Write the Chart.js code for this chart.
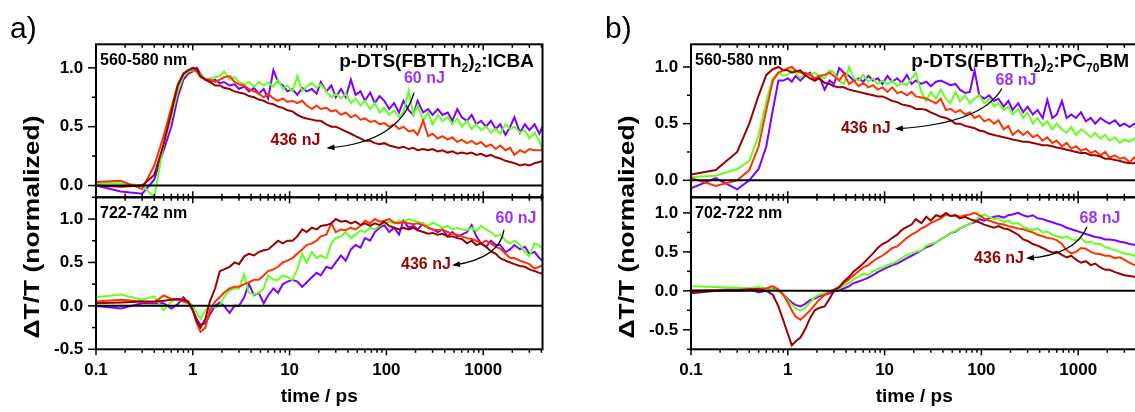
<!DOCTYPE html>
<html>
<head>
<meta charset="utf-8">
<script src="https://cdn.jsdelivr.net/npm/chart.js@4.4.1/dist/chart.umd.min.js"></script>
<style>
  html, body { margin: 0; padding: 0; background: #fff; overflow: hidden; }
  #wrap { position: relative; width: 1135px; height: 412px; overflow: hidden; }
  #wrap canvas { position: absolute; top: 0; }
</style>
</head>
<body>
<div id="wrap">
  <canvas id="icbaTop" width="560" height="412" style="left:0"></canvas>
  <canvas id="icbaBottom" width="560" height="412" style="left:0"></canvas>
  <canvas id="pcbmTop" width="560" height="412" style="left:595px"></canvas>
  <canvas id="pcbmBottom" width="560" height="412" style="left:595px"></canvas>
</div>
<script>
// delay times (ps), shared by every trace
const time = [0.1, 0.18, 0.3, 0.4, 0.5, 0.6, 0.7, 0.8, 0.9, 1.0,
  1.1, 1.2, 1.35, 1.5, 1.7, 1.9, 2.1, 2.4, 2.7, 3.0,
  3.4, 3.8, 4.3, 4.8, 5.4, 6.0, 6.8, 7.6, 8.5, 9.5,
  10.7, 12, 13.5, 15, 17, 19, 21, 24, 27, 30,
  34, 38, 43, 48, 54, 60, 68, 76, 85, 95,
  107, 120, 135, 150, 170, 190, 210, 240, 270, 300,
  340, 380, 430, 480, 540, 600, 680, 760, 850, 950,
  1070, 1200, 1350, 1500, 1700, 1900, 2100, 2400, 2700, 3000,
  3400, 3800, 4100];

// a) p-DTS(FBTTh2)2:ICBA, 560-580 nm
const icba570Violet = [0.0, -0.05, -0.07, 0.05, 0.3, 0.5, 0.75, 0.9, 0.95, 0.97,
  1.0, 0.95, 0.9, 0.88, 0.9, 0.87, 0.88, 0.85, 0.86, 0.82,
  0.84, 0.8, 0.83, 0.78, 0.82, 0.74, 0.98, 0.88, 0.85, 0.8,
  0.82, 0.77, 0.83, 0.8, 0.82, 0.78, 0.88, 0.8, 0.85, 0.75,
  0.82, 0.75, 0.9, 0.77, 0.8, 0.72, 0.79, 0.7, 0.76, 0.72,
  0.65, 0.7, 0.62, 0.72, 0.64, 0.6, 0.72, 0.62, 0.65, 0.6,
  0.65, 0.6, 0.62, 0.55, 0.65, 0.58, 0.55, 0.6, 0.52, 0.55,
  0.5, 0.55, 0.48, 0.52, 0.43, 0.5, 0.58, 0.45, 0.52, 0.47,
  0.52, 0.44, 0.5];
const icba570Green = [0.02, 0.02, 0.0, -0.1, 0.35, 0.58, 0.8, 0.93, 0.97, 0.98,
  0.97, 0.95, 0.9, 0.91, 0.92, 0.93, 0.97, 0.9, 0.92, 0.88,
  0.86, 0.88, 0.84, 0.88, 0.85, 0.88, 0.84, 0.9, 0.82, 0.85,
  0.8, 0.93, 0.8, 0.84, 0.87, 0.83, 0.86, 0.8, 0.75, 0.78,
  0.74, 0.78, 0.7, 0.74, 0.68, 0.72, 0.65, 0.7, 0.62, 0.66,
  0.6, 0.64, 0.58, 0.62, 0.81, 0.6, 0.68, 0.55, 0.62, 0.52,
  0.6, 0.55, 0.58, 0.52, 0.57, 0.5, 0.55, 0.48, 0.52, 0.47,
  0.5, 0.45, 0.48, 0.44, 0.52, 0.48, 0.5, 0.45, 0.47, 0.4,
  0.45, 0.38, 0.3];
const icba570Red = [0.03, 0.04, -0.03, 0.17, 0.42, 0.66, 0.86, 0.95, 0.98, 0.99,
  0.97, 0.92, 0.9, 0.9, 0.88, 0.9, 0.92, 0.93, 0.88, 0.86,
  0.85, 0.82, 0.8, 0.78, 0.75, 0.78, 0.74, 0.72, 0.74, 0.71,
  0.72, 0.7, 0.72, 0.68, 0.65, 0.68, 0.65, 0.66, 0.63, 0.64,
  0.6, 0.62, 0.58, 0.6, 0.56, 0.57, 0.54, 0.55, 0.52, 0.53,
  0.5, 0.52, 0.48, 0.5, 0.46, 0.47, 0.43, 0.55, 0.42, 0.44,
  0.4, 0.42, 0.39, 0.41, 0.37, 0.39, 0.36, 0.38, 0.35, 0.37,
  0.33, 0.35, 0.31, 0.34, 0.3, 0.32, 0.26, 0.3, 0.28, 0.31,
  0.3, 0.3, 0.3];
const icba570Brown = [0.0, -0.01, 0.0, 0.09, 0.35, 0.62, 0.85, 0.95, 0.98, 1.0,
  0.99, 0.93, 0.9, 0.88, 0.85, 0.85, 0.83, 0.82, 0.8, 0.79,
  0.78, 0.76, 0.75, 0.73, 0.72, 0.7, 0.69, 0.67, 0.66, 0.64,
  0.63, 0.6, 0.58, 0.57, 0.56, 0.55, 0.55, 0.52, 0.5, 0.5,
  0.48, 0.46, 0.44, 0.42, 0.4, 0.38, 0.38, 0.36, 0.35, 0.36,
  0.34, 0.33, 0.32, 0.33, 0.31, 0.32, 0.3, 0.31, 0.3, 0.31,
  0.29, 0.3, 0.28, 0.29, 0.27, 0.28, 0.27, 0.28, 0.26, 0.27,
  0.25, 0.26, 0.24, 0.23, 0.21, 0.2, 0.19, 0.17, 0.18, 0.17,
  0.19, 0.2, 0.21];

// a) 722-742 nm
const icba732Violet = [0.0, -0.03, 0.03, 0.03, 0.03, -0.03, 0.02, 0.1, 0.04, -0.05,
  -0.15, -0.22, -0.2, -0.1, 0.0, 0.04, 0.0, -0.08, 0.0, 0.0,
  0.1, 0.25, 0.12, 0.15, 0.03, 0.12, 0.2, 0.15, 0.25, 0.28,
  0.3, 0.28, 0.22, 0.27, 0.33, 0.38, 0.35, 0.45, 0.43, 0.5,
  0.58, 0.52, 0.65, 0.7, 0.67, 0.78, 0.75, 0.85, 0.9, 0.93,
  0.85, 0.9, 0.82, 0.98, 0.9, 0.92, 0.88, 0.95, 0.9, 0.88,
  0.85, 0.88, 0.8, 0.85, 0.8, 0.82, 0.85, 0.93, 0.8, 0.72,
  0.68, 0.75, 0.7, 0.7, 0.62, 0.65, 0.7, 0.65, 0.68, 0.6,
  0.62, 0.55, 0.52];
const icba732Green = [0.1, 0.13, 0.07, 0.11, -0.05, 0.05, 0.08, 0.07, 0.05, 0.0,
  -0.08, -0.15, -0.05, 0.0, -0.02, 0.0, 0.1, 0.18, 0.2, 0.2,
  0.36, 0.15, 0.13, 0.15, 0.2, 0.35, 0.3, 0.3, 0.35, 0.33,
  0.3, 0.42, 0.6, 0.5, 0.62, 0.55, 0.58, 0.55, 0.72, 0.78,
  0.8, 0.85, 0.78, 0.82, 0.87, 0.85, 0.9, 0.88, 0.92, 0.95,
  0.97, 0.95, 0.98, 0.97, 1.0, 0.98, 0.97, 0.95, 0.92, 0.96,
  0.93, 0.9, 0.92, 0.88, 0.9, 0.88, 0.87, 0.9, 0.86, 0.92,
  0.88, 0.85, 0.8, 0.82, 0.75, 0.72, 0.75, 0.7, 0.62, 0.57,
  0.72, 0.7, 0.65];
const icba732Red = [0.05, 0.07, 0.05, 0.04, 0.12, 0.08, 0.07, 0.05, 0.03, -0.05,
  -0.2, -0.3, -0.25, -0.05, 0.05, 0.1, 0.15, 0.2, 0.22, 0.22,
  0.25, 0.27, 0.3, 0.3, 0.35, 0.4, 0.42, 0.45, 0.5, 0.52,
  0.55, 0.6, 0.65, 0.7, 0.72, 0.75, 0.8, 0.82, 0.95, 0.85,
  0.88, 0.87, 0.9, 0.88, 0.92, 0.98, 0.95, 1.0, 0.97, 0.98,
  1.0, 0.96, 0.95, 0.97, 0.95, 0.94, 0.95, 0.93, 0.9, 0.88,
  0.87, 0.88, 0.85, 0.83, 0.82, 0.8, 0.78, 0.77, 0.75, 0.72,
  0.75, 0.72, 0.68, 0.66, 0.6, 0.55, 0.55, 0.52, 0.5, 0.48,
  0.43, 0.45, 0.47];
const icba732Brown = [0.03, 0.04, 0.05, 0.05, 0.06, 0.07, 0.08, 0.07, 0.05, -0.05,
  -0.18, -0.25, -0.15, 0.05, 0.2, 0.4, 0.42, 0.45, 0.5, 0.48,
  0.57, 0.6, 0.58, 0.62, 0.64, 0.65, 0.7, 0.75, 0.72, 0.75,
  0.75, 0.8, 0.88, 0.85, 0.9, 0.88, 0.92, 0.93, 0.95, 1.0,
  0.97, 0.98, 0.95, 0.97, 0.93, 0.95, 0.92, 0.95, 0.93, 0.97,
  0.92, 0.9, 0.88, 0.9, 0.88, 0.9, 0.87, 0.85, 0.83, 0.84,
  0.82, 0.83, 0.8, 0.8, 0.78, 0.77, 0.72, 0.75, 0.7, 0.72,
  0.68, 0.63, 0.6, 0.55, 0.52, 0.5, 0.48, 0.46, 0.45, 0.42,
  0.4, 0.38, 0.37];

// b) p-DTS(FBTTh2)2:PC70BM, 560-580 nm
const pcbm570Violet = [-0.07, 0.02, -0.08, 0.0, 0.1, 0.3, 0.62, 0.88, 0.88, 0.9,
  0.87, 0.92, 0.88, 0.92, 0.95, 0.88, 0.92, 0.8, 0.88, 0.85,
  0.99, 0.95, 0.92, 0.88, 0.9, 0.87, 0.92, 0.88, 0.9, 0.85,
  0.92, 0.87, 0.9, 0.86, 0.93, 0.85, 0.88, 0.85, 0.87, 0.83,
  0.87, 0.88, 0.86, 0.84, 0.85, 0.8, 0.77, 0.78, 0.97, 0.75,
  0.72, 0.75, 0.7, 0.72, 0.65, 0.7, 0.62, 0.68, 0.6, 0.65,
  0.58, 0.62, 0.55, 0.71, 0.55, 0.58, 0.7, 0.55, 0.58, 0.55,
  0.6, 0.52, 0.55, 0.5, 0.55, 0.52, 0.5, 0.53, 0.48, 0.5,
  0.47, 0.5, 0.48];
const pcbm570Green = [0.03, 0.04, 0.1, 0.17, 0.4, 0.7, 0.9, 0.95, 0.92, 0.93,
  0.97, 0.95, 0.9, 0.95, 0.93, 0.95, 0.92, 0.9, 0.97, 0.95,
  0.88, 0.85, 1.0, 0.9, 0.88, 0.93, 0.87, 0.9, 0.85, 0.88,
  0.85, 0.88, 0.83, 0.86, 0.84, 0.9, 0.95, 0.78, 0.7, 0.78,
  0.72, 0.8, 0.72, 0.68, 0.78, 0.7, 0.75, 0.68, 0.72, 0.75,
  0.68, 0.72, 0.65, 0.68, 0.62, 0.65, 0.58, 0.63, 0.55, 0.6,
  0.5, 0.55, 0.48, 0.52, 0.45, 0.5, 0.45, 0.42, 0.47, 0.4,
  0.45, 0.42, 0.38, 0.42, 0.37, 0.4, 0.35, 0.38, 0.33, 0.36,
  0.34, 0.37, 0.35];
const pcbm570Red = [0.02, -0.05, 0.0, 0.09, 0.3, 0.62, 0.88, 0.95, 0.97, 0.99,
  1.0, 0.97, 0.95, 0.95, 0.93, 0.9, 0.92, 0.93, 0.95, 0.92,
  0.88, 0.94, 0.85, 0.88, 0.83, 0.86, 0.82, 0.84, 0.8, 0.82,
  0.78, 0.82, 0.77, 0.78, 0.75, 0.78, 0.74, 0.73, 0.72, 0.7,
  0.68, 0.72, 0.62, 0.63, 0.6, 0.62, 0.58, 0.6, 0.55, 0.57,
  0.52, 0.54, 0.5, 0.53, 0.45, 0.48, 0.4, 0.44, 0.4, 0.43,
  0.38, 0.4, 0.35, 0.38, 0.33, 0.35, 0.3, 0.33, 0.28, 0.3,
  0.26, 0.28, 0.24, 0.26, 0.22, 0.25, 0.2, 0.22, 0.19, 0.2,
  0.16, 0.2, 0.18];
const pcbm570Brown = [0.05, 0.09, 0.25, 0.5, 0.75, 0.93, 0.98, 1.0, 0.97, 0.97,
  0.95, 0.96, 0.97, 0.93, 0.9, 0.88, 0.9, 0.86, 0.85, 0.83,
  0.82, 0.82, 0.8, 0.79, 0.78, 0.77, 0.76, 0.75, 0.74, 0.74,
  0.72, 0.7, 0.69, 0.67, 0.66, 0.65, 0.63, 0.63, 0.62, 0.6,
  0.58, 0.56, 0.55, 0.53, 0.5, 0.5, 0.48, 0.47, 0.46, 0.44,
  0.43, 0.41, 0.4, 0.39, 0.38, 0.37, 0.36, 0.35, 0.34, 0.34,
  0.33, 0.32, 0.31, 0.31, 0.3, 0.29, 0.28, 0.27, 0.26, 0.25,
  0.24, 0.24, 0.22, 0.22, 0.21, 0.19, 0.19, 0.18, 0.17, 0.16,
  0.15, 0.15, 0.16];

// b) 702-722 nm
const pcbm712Violet = [0.0, 0.01, 0.02, 0.03, -0.02, 0.0, 0.03, 0.0, -0.05, -0.1,
  -0.15, -0.18, -0.2, -0.17, -0.12, -0.1, -0.07, -0.05, -0.03, -0.01,
  0.01, 0.03, 0.06, 0.1, 0.12, 0.14, 0.17, 0.2, 0.24, 0.27,
  0.3, 0.33, 0.35, 0.38, 0.42, 0.45, 0.48, 0.52, 0.56, 0.58,
  0.62, 0.66, 0.7, 0.74, 0.76, 0.8, 0.83, 0.86, 0.88, 0.92,
  0.9, 0.93, 0.95, 0.96, 0.94, 0.97, 0.98, 1.0, 0.97, 0.95,
  0.97, 0.93, 0.92, 0.9, 0.88, 0.86, 0.84, 0.81, 0.79, 0.77,
  0.75, 0.73, 0.71, 0.69, 0.68, 0.66, 0.66, 0.65, 0.63, 0.62,
  0.6, 0.59, 0.58];
const pcbm712Green = [0.06, 0.05, 0.04, 0.03, 0.05, 0.03, 0.02, 0.0, -0.05, -0.12,
  -0.18, -0.22, -0.25, -0.22, -0.15, -0.08, -0.05, -0.03, 0.0, 0.0,
  0.03, 0.07, 0.1, 0.15, 0.18, 0.22, 0.2, 0.25, 0.28, 0.3,
  0.33, 0.35, 0.38, 0.42, 0.46, 0.48, 0.5, 0.52, 0.58, 0.6,
  0.62, 0.66, 0.7, 0.74, 0.77, 0.8, 0.83, 0.86, 0.9, 0.95,
  0.98, 0.95, 0.92, 0.93, 0.88, 0.9, 0.86, 0.87, 0.82, 0.8,
  0.78, 0.8, 0.75, 0.76, 0.72, 0.7, 0.68, 0.7, 0.66, 0.65,
  0.68, 0.62, 0.63, 0.6, 0.6, 0.56, 0.55, 0.52, 0.5, 0.48,
  0.47, 0.45, 0.43];
const pcbm712Red = [0.0, 0.01, 0.0, 0.01, 0.02, 0.03, 0.06, 0.02, -0.05, -0.15,
  -0.25, -0.33, -0.37, -0.32, -0.25, -0.18, -0.12, -0.05, -0.02, 0.02,
  0.05, 0.1, 0.15, 0.2, 0.25, 0.3, 0.33, 0.38, 0.42, 0.45,
  0.5, 0.55, 0.57, 0.62, 0.68, 0.72, 0.75, 0.8, 0.83, 0.87,
  0.9, 0.93, 0.98, 0.96, 0.97, 0.95, 0.97, 0.98, 1.0, 0.97,
  0.93, 0.9, 0.88, 0.86, 0.85, 0.83, 0.82, 0.8, 0.79, 0.77,
  0.75, 0.72, 0.7, 0.68, 0.67, 0.65, 0.6, 0.52, 0.48, 0.5,
  0.55, 0.54, 0.5, 0.48, 0.47, 0.45, 0.45, 0.42, 0.43, 0.4,
  0.36, 0.33, 0.33];
const pcbm712Brown = [-0.03, 0.0, 0.01, 0.02, 0.02, 0.0, -0.05, -0.2, -0.38, -0.55,
  -0.7, -0.65, -0.6, -0.5, -0.35, -0.25, -0.22, -0.2, -0.1, 0.0,
  0.05, 0.12, 0.18, 0.25, 0.3, 0.35, 0.42, 0.48, 0.55, 0.6,
  0.63, 0.68, 0.72, 0.78, 0.82, 0.85, 0.92, 0.87, 0.95, 0.9,
  0.97, 0.95, 1.0, 0.96, 0.97, 0.93, 0.95, 0.92, 0.9, 0.88,
  0.85, 0.83, 0.81, 0.83, 0.8, 0.79, 0.76, 0.72, 0.66, 0.64,
  0.6, 0.58, 0.55, 0.52, 0.49, 0.5, 0.46, 0.43, 0.45, 0.4,
  0.36, 0.38, 0.33, 0.35, 0.3, 0.27, 0.27, 0.24, 0.22, 0.2,
  0.19, 0.18, 0.17];

const xTicks = [0.1, 1, 10, 100, 1000];
const xTickLabels = ['0.1', '1', '10', '100', '1000'];
const yTicksTop = [0, 0.5, 1.0];
const yTicksBottom = [-0.5, 0, 0.5, 1.0];

const colors = { violet: '#7f00ff', green: '#66ff22', red: '#ff3300', brown: '#990000' };
const FONT = "'Liberation Sans', Arial, Helvetica, sans-serif";

Chart.defaults.font.family = FONT;
Chart.defaults.color = '#000';

function pts(vals) {
  return vals.map((v, i) => ({ x: time[i], y: v }));
}

function line(ctx, x1, y1, x2, y2) {
  ctx.beginPath(); ctx.moveTo(x1, y1); ctx.lineTo(x2, y2); ctx.stroke();
}

// text with "_2" style subscripts
function richText(ctx, str, xRight, yBase, size) {
  const parts = str.split(/(_\d+)/).filter(s => s).map(s =>
    s[0] === '_' ? { t: s.slice(1), sub: true } : { t: s, sub: false });
  let w = 0;
  parts.forEach(p => {
    ctx.font = 'bold ' + (p.sub ? Math.round(size * 0.63) : size) + 'px ' + FONT;
    p.w = ctx.measureText(p.t).width; w += p.w;
  });
  let x = xRight - w;
  ctx.textAlign = 'left'; ctx.textBaseline = 'alphabetic';
  parts.forEach(p => {
    ctx.font = 'bold ' + (p.sub ? Math.round(size * 0.63) : size) + 'px ' + FONT;
    ctx.fillText(p.t, x, p.sub ? yBase + size * 0.28 : yBase);
    x += p.w;
  });
}

const panelPlugin = {
  id: 'panel',
  afterDatasetsDraw(chart, args, o) {
    const { ctx, chartArea: a, scales: { x, y } } = chart;
    ctx.save();
    ctx.strokeStyle = '#000';
    ctx.fillStyle = '#000';

    // zero line and frame
    ctx.lineWidth = 2;
    const y0 = y.getPixelForValue(0);
    line(ctx, a.left, y0, a.right, y0);
    ctx.strokeRect(a.left, a.top, a.right - a.left, a.bottom - a.top);

    // x tick marks
    ctx.lineWidth = 1.5;
    for (let d = 0.1; d < 1e4; d *= 10) {
      for (let k = 1; k <= 9; k++) {
        const v = d * k;
        if (v > x.max) break;
        const px = x.getPixelForValue(v);
        const len = k === 1 ? 6 : 3.5;
        line(ctx, px, a.top, px, a.top + len);
        if (o.bottomAxis) line(ctx, px, a.bottom, px, a.bottom + len);
        else line(ctx, px, a.bottom, px, a.bottom - len);
      }
    }
    // y tick marks
    for (let v = Math.ceil(y.min / 0.25) * 0.25; v <= y.max + 1e-9; v += 0.25) {
      const py = y.getPixelForValue(v);
      const major = Math.abs(v * 2 - Math.round(v * 2)) < 1e-6;
      line(ctx, a.left - (major ? 8 : 4), py, a.left, py);
    }

    // wavelength window
    ctx.font = 'bold 16px ' + FONT;
    ctx.textAlign = 'left'; ctx.textBaseline = 'alphabetic';
    ctx.fillText(o.window, a.left + 4, a.top + 20.7);

    if (o.blend) richText(ctx, o.blend, a.right - 8.5, a.top + 22.3, 19);

    // pump energies and arrow
    const P = (p) => ({ x: x.getPixelForValue(p[0]), y: y.getPixelForValue(p[1]) });
    ctx.font = 'bold 16px ' + FONT;
    ctx.textAlign = 'center'; ctx.textBaseline = 'middle';
    const lo = P(o.low.at), hi = P(o.high.at);
    ctx.fillStyle = '#9933ff'; ctx.fillText(o.low.text, lo.x, lo.y);
    ctx.fillStyle = '#990000'; ctx.fillText(o.high.text, hi.x, hi.y);
    const s = P(o.arrow[0]), c = P(o.arrow[1]), e = P(o.arrow[2]);
    ctx.strokeStyle = '#000'; ctx.fillStyle = '#000'; ctx.lineWidth = 1.3;
    ctx.beginPath(); ctx.moveTo(s.x, s.y); ctx.quadraticCurveTo(c.x, c.y, e.x, e.y); ctx.stroke();
    const ang = Math.atan2(e.y - c.y, e.x - c.x);
    ctx.beginPath();
    ctx.moveTo(e.x + 2 * Math.cos(ang), e.y + 2 * Math.sin(ang));
    ctx.lineTo(e.x - 6 * Math.cos(ang) - 3 * Math.sin(ang), e.y - 6 * Math.sin(ang) + 3 * Math.cos(ang));
    ctx.lineTo(e.x - 6 * Math.cos(ang) + 3 * Math.sin(ang), e.y - 6 * Math.sin(ang) - 3 * Math.cos(ang));
    ctx.closePath(); ctx.fill();

    // panel letter and shared y title
    if (o.letter) {
      ctx.font = '30px ' + FONT;
      ctx.textAlign = 'left'; ctx.textBaseline = 'alphabetic';
      ctx.fillText(o.letter, 10, 37.5);
      ctx.save();
      ctx.translate(33, 227);
      ctx.rotate(-Math.PI / 2);
      ctx.scale(1.2, 1);
      ctx.font = 'bold 22px ' + FONT;
      ctx.textAlign = 'center'; ctx.textBaseline = 'middle';
      ctx.fillText('\u0394T/T (normalized)', 0, 0);
      ctx.restore();
    }
    ctx.restore();
  }
};

function makePanel(id, cfg) {
  const bottom = cfg.bottomAxis;
  return new Chart(document.getElementById(id), {
    type: 'line',
    data: {
      datasets: [
        { data: pts(cfg.series[3]), borderColor: colors.brown },
        { data: pts(cfg.series[2]), borderColor: colors.red },
        { data: pts(cfg.series[1]), borderColor: colors.green },
        { data: pts(cfg.series[0]), borderColor: colors.violet }
      ]
    },
    options: {
      responsive: false,
      animation: false,
      devicePixelRatio: 1,
      layout: { padding: bottom ? { top: 197.3, bottom: 0, left: 0, right: 17.5 }
                                : { top: 44.3, bottom: 214.7, left: 0, right: 17.5 } },
      elements: { point: { radius: 0 }, line: { borderWidth: 2, tension: 0 } },
      plugins: { legend: { display: false }, tooltip: { enabled: false }, panel: cfg },
      scales: {
        x: {
          type: 'logarithmic', min: 0.1, max: 4100,
          display: bottom,
          grid: { display: false, drawTicks: false },
          border: { display: false },
          afterBuildTicks: s => { s.ticks = xTicks.map(v => ({ value: v })); },
          afterFit: s => { if (bottom) s.height = 62.7; },
          ticks: {
            autoSkip: false, maxRotation: 0, padding: 10.8,
            font: { size: 17, weight: 'bold' },
            callback: v => xTickLabels[xTicks.indexOf(v)]
          },
          title: { display: true, text: 'time / ps', font: { size: 19, weight: 'bold' },
                   padding: { top: 0, bottom: 3.5 } }
        },
        y: {
          min: cfg.yRange[0], max: cfg.yRange[1],
          grid: { display: false, drawTicks: false },
          border: { display: false },
          afterBuildTicks: s => { s.ticks = cfg.yTicks.map(v => ({ value: v })); },
          afterFit: s => { s.width = 96; },
          ticks: { padding: 12.7, font: { size: 17, weight: 'bold' }, callback: v => v.toFixed(1) }
        }
      }
    },
    plugins: [panelPlugin]
  });
}

makePanel('icbaTop', {
  series: [icba570Violet, icba570Green, icba570Red, icba570Brown],
  yRange: [-0.1, 1.2], yTicks: yTicksTop, bottomAxis: false,
  window: '560-580 nm', blend: 'p-DTS(FBTTh_2)_2:ICBA', letter: 'a)',
  low: { text: '60 nJ', at: [247, 0.905] }, high: { text: '436 nJ', at: [11.5, 0.38] },
  arrow: [[193, 0.79], [138, 0.37], [25.2, 0.32]]
});
makePanel('icbaBottom', {
  series: [icba732Violet, icba732Green, icba732Red, icba732Brown],
  yRange: [-0.5, 1.25], yTicks: yTicksBottom, bottomAxis: true,
  window: '722-742 nm',
  low: { text: '60 nJ', at: [2183, 1.0] }, high: { text: '436 nJ', at: [256, 0.47] },
  arrow: [[1640, 0.875], [1490, 0.55], [499, 0.47]]
});
makePanel('pcbmTop', {
  series: [pcbm570Violet, pcbm570Green, pcbm570Red, pcbm570Brown],
  yRange: [-0.15, 1.2], yTicks: yTicksTop, bottomAxis: false,
  window: '560-580 nm', blend: 'p-DTS(FBTTh_2)_2:PC_70BM', letter: 'b)',
  low: { text: '68 nJ', at: [228, 0.88] }, high: { text: '436 nJ', at: [6.4, 0.46] },
  arrow: [[163, 0.81], [101, 0.5], [13.4, 0.455]]
});
makePanel('pcbmBottom', {
  series: [pcbm712Violet, pcbm712Green, pcbm712Red, pcbm712Brown],
  yRange: [-0.75, 1.2], yTicks: yTicksBottom, bottomAxis: true,
  window: '702-722 nm',
  low: { text: '68 nJ', at: [1680, 0.925] }, high: { text: '436 nJ', at: [152, 0.41] },
  arrow: [[1233, 0.82], [927, 0.46], [303, 0.42]]
});
</script>
</body>
</html>
